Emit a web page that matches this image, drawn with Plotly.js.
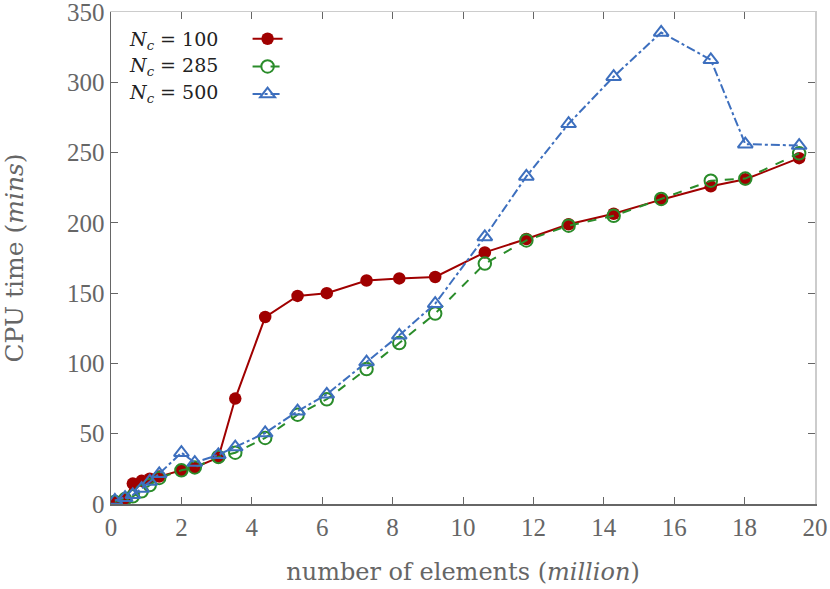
<!DOCTYPE html>
<html>
<head>
<meta charset="utf-8">
<script src="https://cdn.plot.ly/plotly-3.0.1.min.js"></script>
<style>html,body{margin:0;padding:0;background:#fff;}#chart{width:830px;height:589px;}</style>
</head>
<body>
<div id="chart"></div>
<script>
// number of elements (million)
const elements = [0.11, 0.4, 0.62, 0.87, 1.1, 1.37, 2.0, 2.38, 3.05, 3.53, 4.38, 5.3, 6.13, 7.26, 8.19, 9.21, 10.62, 11.8, 13.0, 14.28, 15.63, 17.04, 18.02, 19.55];
// CPU time (mins)
const nc100 = [1.5, 3, 14.5, 16.5, 18, 19.5, 24, 26, 33, 75, 133, 148, 150, 159, 160.5, 161.5, 179, 188.5, 199, 206.5, 216.5, 226, 231, 246];
const nc285 = [1.5, 3.5, 5.5, 9, 13.5, 18.5, 24, 26, 33.5, 36.5, 47, 63.5, 74.5, 96, 114.5, 135.5, 171, 187.5, 198, 205, 217, 230, 231.5, 249.5];
const nc500 = [2.5, 4.5, 6.5, 11, 16, 21.5, 36.5, 29.5, 35, 40.5, 50.5, 66, 78, 101, 120, 142.5, 190, 233, 270.5, 304, 335.5, 316, 256, 255];
const seriesLabels = ['<i>N</i><sub><i>c</i></sub> = 100', '<i>N</i><sub><i>c</i></sub> = 285', '<i>N</i><sub><i>c</i></sub> = 500'];
const xTicks = [0, 2, 4, 6, 8, 10, 12, 14, 16, 18, 20];
const yTicks = [0, 50, 100, 150, 200, 250, 300, 350];

const TICKFONT = 'Liberation Serif';
const TITLEFONT = 'DejaVu Serif';
const GREY = '#666666';

const traces = [
  {x: elements, y: nc100, name: '', mode: 'lines+markers', type: 'scatter',
   line: {color: '#a00000', width: 2},
   marker: {symbol: 'circle', size: 12.5, color: '#a00000'}},
  {x: elements, y: nc285, name: '', mode: 'lines+markers', type: 'scatter',
   line: {color: '#2a8c2a', width: 2, dash: 'dash'},
   marker: {symbol: 'circle-open', size: 12.5, color: '#2a8c2a', line: {width: 2}}},
  {x: elements, y: nc500, name: '', mode: 'lines+markers', type: 'scatter',
   line: {color: '#3d6fbe', width: 2, dash: 'dashdot'},
   marker: {symbol: 'triangle-up-open', size: 13, color: '#3d6fbe', line: {width: 2}}},
  {x: [0, 20], y: [0, 350], xaxis: 'x2', yaxis: 'y2', mode: 'markers', type: 'scatter',
   marker: {opacity: 0}, showlegend: false, hoverinfo: 'skip'}
];

const labelY = [0.943, 0.889, 0.834];
const annotations = seriesLabels.map((t, i) => ({
  text: t, xref: 'paper', yref: 'paper', x: 0.023, y: labelY[i],
  xanchor: 'left', yanchor: 'middle', showarrow: false,
  font: {family: TITLEFONT, size: 19, color: '#222'}
}));

const layout = {
  width: 830, height: 589,
  margin: {l: 111, r: 15, t: 12, b: 85},
  paper_bgcolor: '#fff', plot_bgcolor: '#fff',
  font: {family: TICKFONT, size: 25, color: GREY},
  showlegend: true,
  legend: {x: 0.194, y: 0.984, xanchor: 'left', yanchor: 'top', bgcolor: 'rgba(0,0,0,0)',
           font: {family: TITLEFONT, size: 19}, tracegroupgap: 0},
  xaxis: {range: [0, 20], tickvals: xTicks, ticktext: xTicks.map(String), ticks: 'inside', ticklen: 7,
          tickcolor: GREY, showline: true, linecolor: GREY, linewidth: 1.5, showgrid: false, zeroline: false,
          ticklabeloverflow: 'allow',
          tickfont: {family: TICKFONT, size: 25, color: GREY},
          title: {text: 'number of elements (<i>million</i>)', font: {family: TITLEFONT, size: 24, color: GREY}, standoff: 23}},
  yaxis: {range: [0, 350], tickvals: yTicks, ticktext: yTicks.map(String), ticks: 'inside', ticklen: 7,
          tickcolor: GREY, showline: true, linecolor: GREY, linewidth: 1.5, showgrid: false, zeroline: false,
          ticklabeloverflow: 'allow',
          tickfont: {family: TICKFONT, size: 25, color: GREY},
          title: {text: 'CPU time (<i>mins</i>)', font: {family: TITLEFONT, size: 25, color: GREY}, standoff: 36}},
  xaxis2: {overlaying: 'x', side: 'top', range: [0, 20], tickvals: xTicks, ticks: 'inside', ticklen: 7,
           tickcolor: GREY, showticklabels: false, showline: true, linecolor: '#cccccc', linewidth: 1.5,
           showgrid: false, zeroline: false},
  yaxis2: {overlaying: 'y', side: 'right', range: [0, 350], tickvals: yTicks, ticks: 'inside', ticklen: 7,
           tickcolor: GREY, showticklabels: false, showline: true, linecolor: '#cccccc', linewidth: 1.5,
           showgrid: false, zeroline: false},
  annotations: annotations
};

Plotly.newPlot('chart', traces, layout, {displayModeBar: false, staticPlot: true});
</script>
</body>
</html>
